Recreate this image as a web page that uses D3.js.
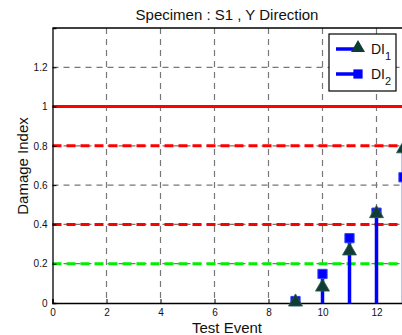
<!DOCTYPE html>
<html>
<head>
<meta charset="utf-8">
<script src="https://cdn.jsdelivr.net/npm/d3@7"></script>
<style>
  body { margin: 0; background: #fff; overflow: hidden; }
  svg { font-family: "Liberation Sans", Arial, sans-serif; }
</style>
</head>
<body>
<svg id="chart" width="402" height="335"></svg>
<script>
const events = [9, 10, 11, 12, 13];
const di1 = [0.0, 0.076, 0.26, 0.45, 0.78];
const di2 = [0.01, 0.148, 0.33, 0.46, 0.64];
const xTicks = [0, 2, 4, 6, 8, 10, 12];
const yTicks = [0, 0.2, 0.4, 0.6, 0.8, 1, 1.2];
const limits = [
  { v: 1, color: "#ff0000", dash: null },
  { v: 0.8, color: "#ff0000", dash: "9,5" },
  { v: 0.4, color: "#ff0000", dash: "9,5" },
  { v: 0.2, color: "#00ee00", dash: "9,5" }
];

const MARGIN = { left: 52.5, top: 28 };
const WIDTH = 27 * 16;
const HEIGHT = 275;

const svg = d3.select("#chart");

const x = d3.scaleLinear().domain([0, 16]).range([0, WIDTH]);
const y = d3.scaleLinear().domain([0, 1.4]).range([HEIGHT, 0]);

const g = svg.append("g")
  .attr("transform", `translate(${MARGIN.left},${MARGIN.top})`);

// grid
g.append("g").selectAll("line.vg")
  .data(xTicks.filter(d => d > 0))
  .join("line")
  .attr("x1", d => x(d)).attr("x2", d => x(d))
  .attr("y1", 0).attr("y2", HEIGHT)
  .attr("stroke", "#777").attr("stroke-width", 1.2)
  .attr("stroke-dasharray", "6,5");

g.append("g").selectAll("line.hg")
  .data(yTicks.filter(d => d > 0))
  .join("line")
  .attr("x1", 0).attr("x2", WIDTH)
  .attr("y1", d => y(d)).attr("y2", d => y(d))
  .attr("stroke", "#777").attr("stroke-width", 1.2)
  .attr("stroke-dasharray", "6,5");

// threshold lines
g.append("g").selectAll("line")
  .data(limits)
  .join("line")
  .attr("x1", 0).attr("x2", WIDTH)
  .attr("y1", d => y(d.v)).attr("y2", d => y(d.v))
  .attr("stroke", d => d.color).attr("stroke-width", 3)
  .attr("stroke-dasharray", d => d.dash);

// axes
const xAxis = d3.axisBottom(x).tickValues(xTicks).tickSize(-4).tickPadding(6);
const yAxis = d3.axisLeft(y).tickValues(yTicks).tickFormat(d => String(d))
  .tickSize(-4).tickPadding(5);

g.append("g")
  .attr("transform", `translate(0,${HEIGHT})`)
  .call(xAxis)
  .call(a => a.select(".domain").attr("stroke", "#000").attr("stroke-width", 1.3))
  .call(a => a.selectAll("text").attr("font-size", 10).attr("fill", "#111")
    .attr("font-family", "Liberation Sans, Arial, sans-serif"));

g.append("g")
  .call(yAxis)
  .call(a => a.select(".domain").attr("stroke", "#000").attr("stroke-width", 1.3))
  .call(a => a.selectAll("text").attr("font-size", 10).attr("fill", "#111")
    .attr("font-family", "Liberation Sans, Arial, sans-serif"));

g.append("line")
  .attr("x1", 0).attr("x2", WIDTH).attr("y1", 0).attr("y2", 0)
  .attr("stroke", "#000").attr("stroke-width", 1.3);

// stems
const pts = events.map((e, i) => ({ e, a: di1[i], b: di2[i] }));
g.append("g").selectAll("line")
  .data(pts)
  .join("line")
  .attr("x1", d => x(d.e)).attr("x2", d => x(d.e))
  .attr("y1", y(0)).attr("y2", d => y(Math.max(d.a, d.b)))
  .attr("stroke", "#0000ff").attr("stroke-width", 3.5);

const tri = d3.symbol().type(d3.symbolTriangle).size(85);
const sq = d3.symbol().type(d3.symbolSquare).size(85);

g.append("g").selectAll("path")
  .data(pts)
  .join("path")
  .attr("d", sq)
  .attr("transform", d => `translate(${x(d.e)},${y(d.b)})`)
  .attr("fill", "#0000ff").attr("stroke", "#3344ff").attr("stroke-width", 1);

g.append("g").selectAll("path")
  .data(pts)
  .join("path")
  .attr("d", tri)
  .attr("transform", d => `translate(${x(d.e)},${y(d.a) - 1})`)
  .attr("fill", "#0f3d34").attr("stroke", "#305a55").attr("stroke-width", 0.8);

// legend
const lg = svg.append("g").attr("transform", "translate(329,34)");
lg.append("rect").attr("width", 67).attr("height", 57)
  .attr("fill", "#fff").attr("stroke", "#000").attr("stroke-width", 1.2);
const entries = [
  { sym: tri, fill: "#0f3d34", sub: "1", yy: 15 },
  { sym: sq, fill: "#0000ff", sub: "2", yy: 40 }
];
entries.forEach(en => {
  lg.append("line").attr("x1", 7).attr("x2", 29).attr("y1", en.yy).attr("y2", en.yy)
    .attr("stroke", "#0000ff").attr("stroke-width", 3.5);
  lg.append("path").attr("d", en.sym)
    .attr("transform", `translate(29,${en.yy - (en.sub === "1" ? 1 : 0)})`)
    .attr("fill", en.fill);
  const t = lg.append("text").attr("x", 42).attr("y", en.yy + 5)
    .attr("font-size", 14).attr("fill", "#111");
  t.append("tspan").text("DI");
  t.append("tspan").attr("dy", 6).attr("font-size", 11).text(en.sub);
});

// titles
svg.append("text").attr("x", 227).attr("y", 20)
  .attr("text-anchor", "middle").attr("font-size", 15).attr("fill", "#111")
  .text("Specimen : S1 , Y Direction");

svg.append("text").attr("x", 227).attr("y", 333)
  .attr("text-anchor", "middle").attr("font-size", 15).attr("fill", "#111")
  .text("Test Event");

svg.append("text")
  .attr("transform", "translate(28,166) rotate(-90)")
  .attr("text-anchor", "middle").attr("font-size", 15).attr("fill", "#111")
  .text("Damage Index");
</script>
</body>
</html>
